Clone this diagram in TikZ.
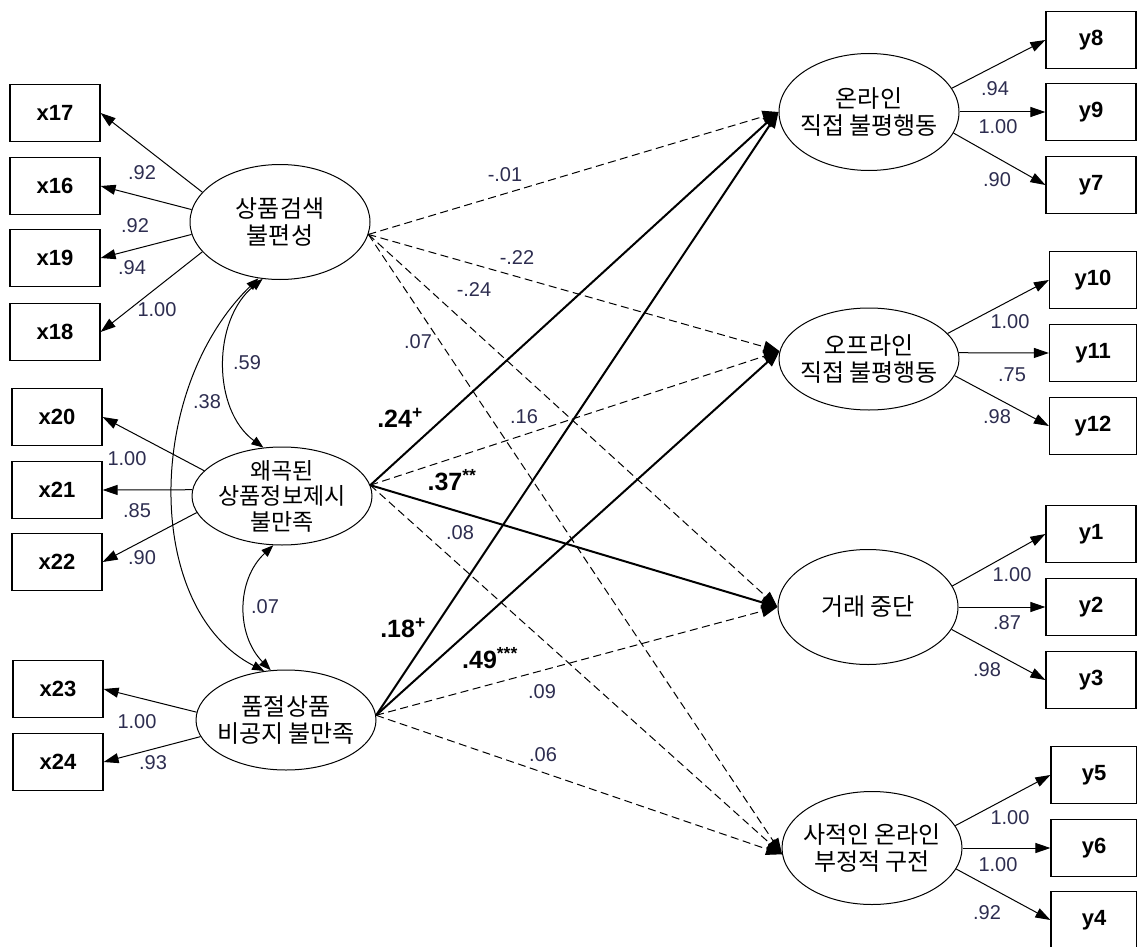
\documentclass[tikz,border=0pt]{standalone}
\usepackage{fontspec}
\setmainfont{Liberation Sans}
\newfontfamily\kr{Noto Sans CJK KR}
\usetikzlibrary{arrows.meta,shapes.geometric}
\definecolor{numcol}{RGB}{45,45,80}
\begin{document}
\begin{tikzpicture}[x=1pt,y=-1pt,
 obs/.style={draw, line width=1.2pt, minimum width=90pt, minimum height=57pt, inner sep=0pt, font=\fontsize{22}{24}\selectfont\bfseries},
 lat/.style={draw, ellipse, line width=1pt, inner xsep=-28pt, inner ysep=-14pt, minimum width=180pt, align=center, font=\kr\fontsize{24}{27}\selectfont},
 ind/.style={line width=1pt, -{Triangle[length=15pt,width=10pt]}},
 num/.style={font=\fontsize{20}{20}\selectfont, text=numcol, inner sep=0pt},
 bnum/.style={font=\fontsize{25}{25}\selectfont\bfseries, inner sep=0pt},
 dpath/.style={line width=1pt, dash pattern=on 8pt off 4.5pt, -{Triangle[length=16pt,width=12pt]}},
 spath/.style={line width=2pt, -{Triangle[length=16pt,width=12pt]}},
 cov/.style={line width=1pt, {Triangle[length=12pt,width=9pt]}-{Triangle[length=12pt,width=9pt]}},
]
\fill[white] (0,0) rectangle (1137,947);
\useasboundingbox (0,0) rectangle (1137,947);

% latent exogenous
\node[lat, minimum height=115pt] (E1) at (280,222) {상품검색\\불편성};
\node[lat, minimum height=98pt, font=\kr\fontsize{23}{25.5}\selectfont] (E2) at (282,496) {왜곡된\\상품정보제시\\불만족};
\node[lat, minimum height=100pt] (E3) at (286,720) {품절상품\\비공지 불만족};
% latent endogenous
\node[lat, minimum height=117pt] (O1) at (869,112) {온라인\\직접 불평행동};
\node[lat, minimum height=102pt] (O2) at (869,359) {오프라인\\직접 불평행동};
\node[lat, minimum height=115pt] (O3) at (868,607) {거래 중단};
\node[lat, minimum height=113pt] (O4) at (872,848) {사적인 온라인\\부정적 구전};

% left boxes
\node[obs] (x17) at (55,113) {x17};
\node[obs] (x16) at (55,186) {x16};
\node[obs] (x19) at (55,258) {x19};
\node[obs] (x18) at (55,332) {x18};
\node[obs] (x20) at (57,417) {x20};
\node[obs] (x21) at (57,490) {x21};
\node[obs] (x22) at (57,562) {x22};
\node[obs] (x23) at (58,689) {x23};
\node[obs] (x24) at (58,762) {x24};
% right boxes
\node[obs] (y8) at (1091,40) {y8};
\node[obs] (y9) at (1091,112) {y9};
\node[obs] (y7) at (1091,185) {y7};
\node[obs, minimum width=87pt] (y10) at (1093,280) {y10};
\node[obs, minimum width=87pt] (y11) at (1093,353) {y11};
\node[obs, minimum width=87pt] (y12) at (1093,426) {y12};
\node[obs] (y1) at (1091,534) {y1};
\node[obs] (y2) at (1091,607) {y2};
\node[obs] (y3) at (1091,680) {y3};
\node[obs, minimum width=86pt] (y5) at (1094,775) {y5};
\node[obs, minimum width=86pt] (y6) at (1094,848) {y6};
\node[obs, minimum width=86pt] (y4) at (1094,920) {y4};

% indicator arrows left
\draw[ind] (E1.159) -- (x17.east);
\draw[ind] (E1.172) -- (x16.east);
\draw[ind] (E1.188) -- (x19.east);
\draw[ind] (E1.201) -- (x18.east);
\draw[ind] (E2.162) -- (x20.east);
\draw[ind] (E2.176) -- (x21.east);
\draw[ind] (E2.191) -- (x22.east);
\draw[ind] (E3.175) -- (x23.east);
\draw[ind] (E3.191) -- (x24.east);
% indicator arrows right
\draw[ind] (O1.16) -- (y8.west);
\draw[ind] (O1.0) -- (y9.west);
\draw[ind] (O1.-14) -- (y7.west);
\draw[ind] (O2.18) -- (y10.west);
\draw[ind] (O2.4) -- (y11.west);
\draw[ind] (O2.-11) -- (y12.west);
\draw[ind] (O3.14) -- (y1.west);
\draw[ind] (O3.0) -- (y2.west);
\draw[ind] (O3.-15) -- (y3.west);
\draw[ind] (O4.15) -- (y5.west);
\draw[ind] (O4.0) -- (y6.west);
\draw[ind] (O4.-14) -- (y4.west);

% covariances
\draw[cov] (E1.253) .. controls (212,320) and (212,410) .. (E2.111);
\draw[cov] (E1.249) .. controls (144,390) and (144,610) .. (E3.114);
\draw[cov] (E2.260) .. controls (236,580) and (236,635) .. (E3.107);

% structural paths
\draw[dpath] (E1.-8) -- (O1.180);
\draw[dpath] (E1.-8) -- (O2.175);
\draw[dpath] (E1.-8) -- (O3.180);
\draw[dpath] (E1.-8) -- (O4.184);
\draw[spath] (E2.7) -- (O1.180);
\draw[dpath] (E2.7) -- (O2.175);
\draw[spath] (E2.7) -- (O3.180);
\draw[dpath] (E2.7) -- (O4.184);
\draw[spath] (E3.3) -- (O1.180);
\draw[spath] (E3.3) -- (O2.175);
\draw[dpath] (E3.3) -- (O3.180);
\draw[dpath] (E3.3) -- (O4.184);

% loading labels left
\node[num] (l1) at (142,173) {.92};
\node[num] (l2) at (135,226) {.92};
\node[num] (l3) at (132,268) {.94};
\node[num] (l4) at (157,310) {1.00};
\node[num] (l5) at (127,459) {1.00};
\node[num] (l6) at (137,511) {.85};
\node[num] (l7) at (142,558) {.90};
\node[num] (l8) at (137,722) {1.00};
\node[num] (l9) at (153,763) {.93};
% loading labels right
\node[num] (r1) at (995,89) {.94};
\node[num] (r2) at (998,127) {1.00};
\node[num] (r3) at (997,180) {.90};
\node[num] (r4) at (1010,322) {1.00};
\node[num] (r5) at (1012,375) {.75};
\node[num] (r6) at (997,417) {.98};
\node[num] (r7) at (1012,575) {1.00};
\node[num] (r8) at (1007,623) {.87};
\node[num] (r9) at (987,670) {.98};
\node[num] (r10) at (1010,818) {1.00};
\node[num] (r11) at (998,865) {1.00};
\node[num] (r12) at (987,913) {.92};
% covariance labels
\node[num] (c1) at (247,363) {.59};
\node[num] (c2) at (207,402) {.38};
\node[num] (c3) at (265,607) {.07};
% path labels
\node[num] (p1) at (505,175) {-.01};
\node[num] (p2) at (517,258) {-.22};
\node[num] (p3) at (474,290) {-.24};
\node[num] (p4) at (418,342) {.07};
\node[num] (p5) at (524,417) {.16};
\node[num] (p6) at (460,533) {.08};
\node[num] (p7) at (542,692) {.09};
\node[num] (p8) at (543,755) {.06};
\node[bnum] (b1) at (400,418) {.24\textsuperscript{+}};
\node[bnum] (b2) at (452,480) {.37\textsuperscript{**}};
\node[bnum] (b3) at (403,628) {.18\textsuperscript{+}};
\node[bnum] (b4) at (490,658) {.49\textsuperscript{***}};
\end{tikzpicture}
\end{document}
